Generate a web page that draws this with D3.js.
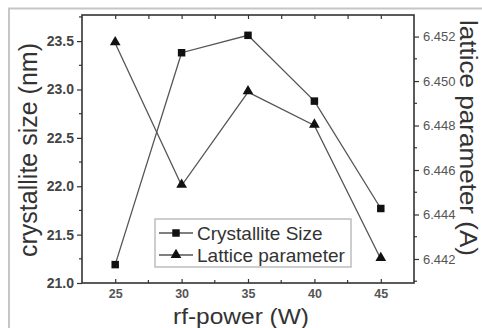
<!DOCTYPE html>
<html>
<head>
<meta charset="utf-8">
<script src="https://cdn.jsdelivr.net/npm/d3@7"></script>
<style>
  html, body { margin: 0; padding: 0; background: #fff; }
  svg { display: block; font-family: "Liberation Sans", Arial, sans-serif; }
</style>
</head>
<body>
<svg id="chart" width="482" height="328"></svg>
<script>
// rf-power settings (W)
const power = [25, 30, 35, 40, 45];
// crystallite size (nm), left axis
const crystalliteSize = [21.19, 23.38, 23.56, 22.88, 21.77];
// lattice parameter (Å), right axis
const latticeParam = [6.4517, 6.4453, 6.4495, 6.4480, 6.4420];

const xTicks = [25, 30, 35, 40, 45];
const leftTicks = [21.0, 21.5, 22.0, 22.5, 23.0, 23.5];
const rightTicks = [6.442, 6.444, 6.446, 6.448, 6.450, 6.452];

const svg = d3.select("#chart");
const box = { left: 82, right: 414, top: 15, bottom: 283 };

const x = d3.scaleLinear().domain([22.5, 47.5]).range([box.left, box.right]);
const yL = d3.scaleLinear().domain([21.0, 23.77]).range([box.bottom, box.top]);
const yR = d3.scaleLinear().domain([6.44092, 6.45297]).range([box.bottom, box.top]);

// outer page frame
svg.append("path")
  .attr("d", `M9,328 V8.5 H482`)
  .attr("fill", "none").attr("stroke", "#c6c6c6").attr("stroke-width", 2);

const ink = "#333";

// axes
const bottomAxis = d3.axisBottom(x).tickValues(xTicks).tickFormat(d3.format("d")).tickSizeInner(-4).tickSizeOuter(0).tickPadding(6);
const topAxis = d3.axisTop(x).tickValues(d3.range(25, 47, 2.5)).tickFormat("").tickSizeInner(-4).tickSizeOuter(0);
const leftAxis = d3.axisLeft(yL).tickValues(leftTicks).tickFormat(d3.format(".1f")).tickSizeInner(5).tickSizeOuter(0).tickPadding(3);
const rightAxis = d3.axisRight(yR).tickValues(rightTicks).tickFormat(d3.format(".3f")).tickSizeInner(5).tickSizeOuter(0).tickPadding(4);

const gB = svg.append("g").attr("transform", `translate(0,${box.bottom})`).call(bottomAxis);
const gT = svg.append("g").attr("transform", `translate(0,${box.top})`).call(topAxis);
const gL = svg.append("g").attr("transform", `translate(${box.left},0)`).call(leftAxis);
const gR = svg.append("g").attr("transform", `translate(${box.right},0)`).call(rightAxis);

// minor ticks
gB.selectAll(".minor").data([27.5, 32.5, 37.5, 42.5]).enter().append("line")
  .attr("x1", d => x(d)).attr("x2", d => x(d)).attr("y1", 0).attr("y2", -3)
  .attr("stroke", ink).attr("stroke-width", 1.2);
gL.selectAll(".minor").data([21.25, 21.75, 22.25, 22.75, 23.25, 23.75]).enter().append("line")
  .attr("x1", 0).attr("x2", -3).attr("y1", d => yL(d)).attr("y2", d => yL(d))
  .attr("stroke", ink).attr("stroke-width", 1.2);
gR.selectAll(".minor").data([6.441, 6.443, 6.445, 6.447, 6.449, 6.451]).enter().append("line")
  .attr("x1", 0).attr("x2", 3).attr("y1", d => yR(d)).attr("y2", d => yR(d))
  .attr("stroke", ink).attr("stroke-width", 1.2);

[gB, gT, gL, gR].forEach(g => {
  g.select(".domain").remove();
  g.selectAll(".tick line").attr("stroke", ink).attr("stroke-width", 1.2);
});
gB.selectAll(".tick text").attr("font-size", 12.5).attr("font-weight", 600).attr("fill", "#555");
gL.selectAll(".tick text").attr("font-size", 14).attr("font-weight", 700).attr("fill", "#444");
gR.selectAll(".tick text").attr("font-size", 13).attr("fill", "#555");

// plot frame
svg.append("rect")
  .attr("x", box.left).attr("y", box.top)
  .attr("width", box.right - box.left).attr("height", box.bottom - box.top)
  .attr("fill", "none").attr("stroke", ink).attr("stroke-width", 1.6);

// series
const lineL = d3.line().x((d, i) => x(power[i])).y(d => yL(d));
const lineR = d3.line().x((d, i) => x(power[i])).y(d => yR(d));

svg.append("path").datum(crystalliteSize).attr("d", lineL)
  .attr("fill", "none").attr("stroke", "#555").attr("stroke-width", 1.3);
svg.append("path").datum(latticeParam).attr("d", lineR)
  .attr("fill", "none").attr("stroke", "#555").attr("stroke-width", 1.3);

const square = d3.symbol().type(d3.symbolSquare).size(56);
const triangle = d3.symbol().type(d3.symbolTriangle).size(50);

svg.selectAll(".sq").data(crystalliteSize).enter().append("path")
  .attr("d", square)
  .attr("transform", (d, i) => `translate(${x(power[i])},${yL(d)})`)
  .attr("fill", "#111");
svg.selectAll(".tri").data(latticeParam).enter().append("path")
  .attr("d", triangle)
  .attr("transform", (d, i) => `translate(${x(power[i])},${yR(d) - 1})`)
  .attr("fill", "#111");

// legend
const lg = svg.append("g");
lg.append("rect").attr("x", 155).attr("y", 219).attr("width", 196).attr("height", 48)
  .attr("fill", "#fff").attr("stroke", "#bdbdbd").attr("stroke-width", 1.5);
const entries = [
  { label: "Crystallite Size", sym: square, y: 233 },
  { label: "Lattice parameter", sym: triangle, y: 255 }
];
entries.forEach(e => {
  lg.append("line").attr("x1", 159).attr("x2", 193).attr("y1", e.y).attr("y2", e.y)
    .attr("stroke", "#555").attr("stroke-width", 1.3);
  lg.append("path").attr("d", e.sym).attr("transform", `translate(176,${e.y})`).attr("fill", "#111");
  lg.append("text").attr("x", 197).attr("y", e.y + 6.5).attr("font-size", 19)
    .attr("fill", "#333").text(e.label);
});

// axis titles
svg.append("text")
  .attr("transform", `translate(37,150) rotate(-90)`)
  .attr("text-anchor", "middle").attr("font-size", 25).attr("fill", "#333")
  .text("crystallite size (nm)");
svg.append("text")
  .attr("transform", `translate(460,138) rotate(90)`)
  .attr("text-anchor", "middle").attr("font-size", 23).attr("fill", "#333")
  .attr("textLength", 236).attr("lengthAdjust", "spacingAndGlyphs")
  .text("lattice parameter (A)");
svg.append("text")
  .attr("x", 241).attr("y", 323.5)
  .attr("text-anchor", "middle").attr("font-size", 22).attr("fill", "#333")
  .attr("textLength", 136).attr("lengthAdjust", "spacingAndGlyphs")
  .text("rf-power (W)");
</script>
</body>
</html>
